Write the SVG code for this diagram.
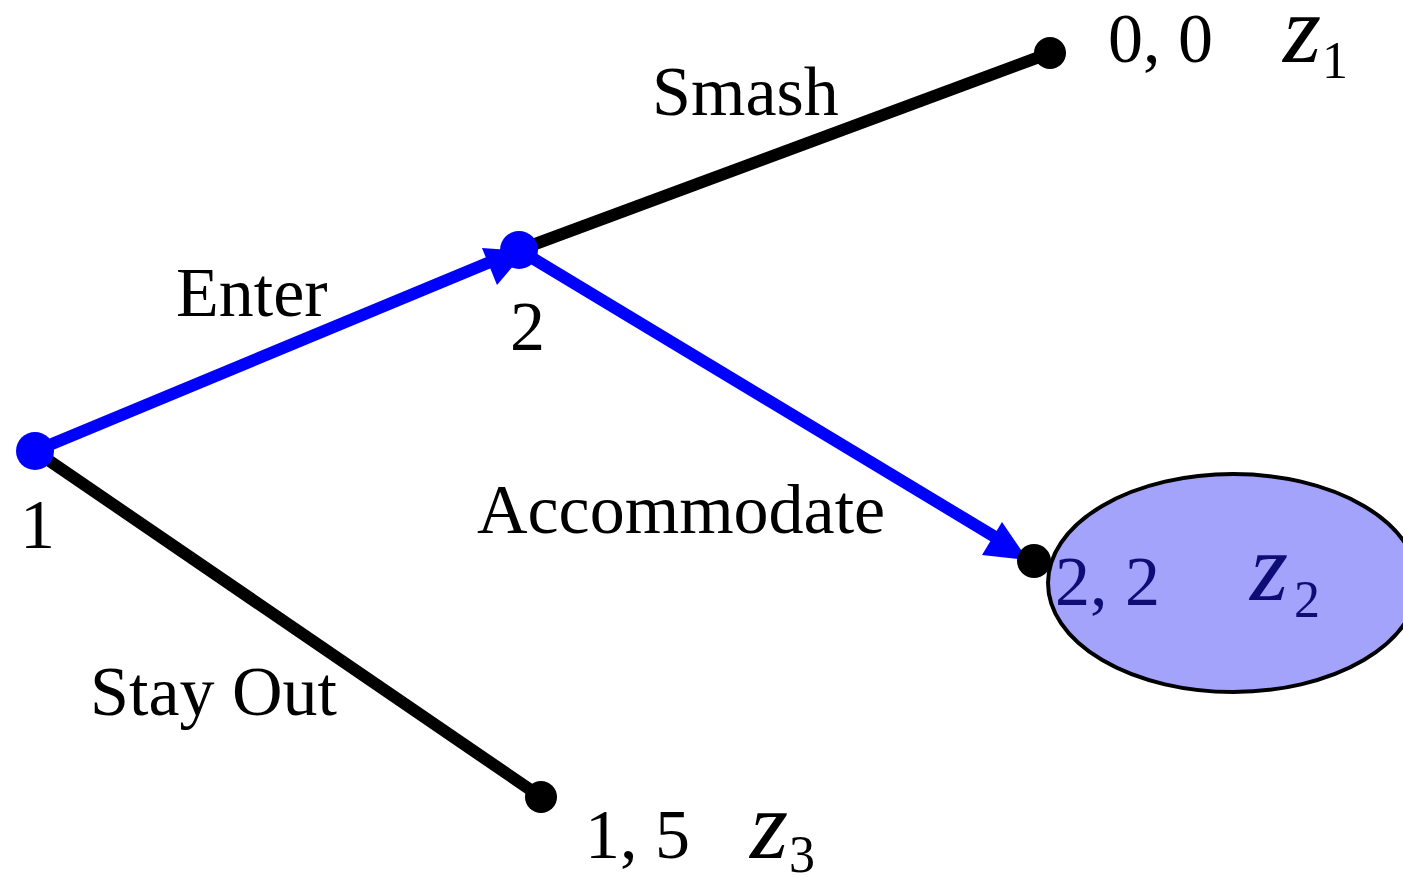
<svg xmlns="http://www.w3.org/2000/svg" width="1403" height="878" viewBox="0 0 1403 878">
<style>
text{font-family:"Liberation Serif","Times New Roman",serif;font-size:70px;fill:#000}
.z{font-style:italic;font-size:98px}
.sub{font-size:52px}
.in{fill:#0d0d75}
.blk{stroke:#000;stroke-width:12;fill:none}
.blu{stroke:#0000ff;stroke-width:12;fill:none}
.ah{fill:#0000ff}
</style>
<rect width="1403" height="878" fill="#fff"/>
<g id="payoff-z2">
<ellipse cx="1233" cy="583" rx="185" ry="109" fill="#a3a3fb" stroke="#000" stroke-width="4"/>
</g>
<g id="connectors">
<line class="blk" x1="519" y1="250" x2="1050" y2="53"/>
<line class="blk" x1="35" y1="451" x2="541" y2="797"/>
<line class="blu" x1="35" y1="451" x2="519" y2="250"/>
<line class="blu" x1="519" y1="250" x2="1010" y2="546"/>
<polygon class="ah" points="526,251 482,248 497,285"/>
<polygon class="ah" points="1028,560 1002,522 982,555"/>
<text x="652" y="115">Smash</text>
<text x="176" y="316">Enter</text>
<text x="477" y="533">Accommodate</text>
<text x="90" y="715">Stay Out</text>
</g>
<g id="node-1">
<circle cx="35" cy="451" r="19" fill="#0000ff"/>
<text x="20" y="548">1</text>
</g>
<g id="node-2">
<circle cx="519" cy="250" r="19" fill="#0000ff"/>
<text x="510" y="350">2</text>
</g>
<g id="terminal-z1">
<circle cx="1050" cy="53" r="16" fill="#000"/>
<text x="1108" y="62">0, 0</text>
<text x="1283" y="62" class="z">z</text><text x="1322" y="78" class="sub">1</text>
</g>
<g id="terminal-z2">
<circle cx="1034" cy="561" r="17" fill="#000"/>
<text x="1055" y="605" class="in">2, 2</text>
<text x="1250" y="600" class="z in">z</text><text x="1294" y="617" class="sub in">2</text>
</g>
<g id="terminal-z3">
<circle cx="541" cy="797" r="16" fill="#000"/>
<text x="585" y="858">1, 5</text>
<text x="750" y="858" class="z">z</text><text x="789" y="872" class="sub">3</text>
</g>
</svg>
